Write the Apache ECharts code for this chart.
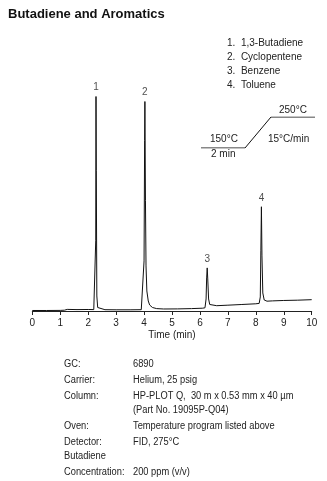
<!DOCTYPE html>
<html><head><meta charset="utf-8">
<script src="https://cdn.jsdelivr.net/npm/echarts@6/dist/echarts.min.js"></script>
<style>html,body{margin:0;padding:0;background:#fff}#c{width:327px;height:481px}</style>
</head><body><div id="c"></div>
<script>
var titleText = 'Butadiene and Aromatics';
var xTicks = [0,1,2,3,4,5,6,7,8,9,10];
var chromTime = [0,0.5,1.0,1.15,1.25,1.6,2.0,2.2,2.25,2.27,2.28,2.29,2.31,2.34,2.4,2.6,3.0,3.5,3.9,3.97,4.0,4.02,4.03,4.05,4.07,4.1,4.15,4.2,4.3,4.45,4.7,5.2,5.7,6.1,6.18,6.22,6.24,6.26,6.28,6.31,6.35,6.42,6.6,7.0,7.5,8.0,8.12,8.16,8.18,8.2,8.22,8.25,8.3,8.4,8.6,9.0,9.5,10.0];
var chromSignal = [0.5,0.5,0.6,0.8,1.6,1.4,1.5,1.4,3,70,214,140,15,3.5,1.8,1.3,1.2,1.2,1.3,2.5,50,170,209,110,45,20,10,6,3.5,2.4,2.0,2.1,2.4,2.8,3.2,12,33,43,32,12,6.5,5.2,5.3,5.8,6.5,7.2,7.6,14,60,104,55,18,11,9.8,10.1,10.5,10.8,11.3];
var peakNames = ['1','2','3','4'];
var peakTimes = [2.28,4.03,6.26,8.2];
var peakHeights = [214,209,43,104];
var compoundList = ['1.  1,3-Butadiene','2.  Cyclopentene','3.  Benzene','4.  Toluene'];
var ovenTime = [0,2,3.18,5.18];
var ovenTemp = [150,150,250,250];
var condLabels = ['GC:','Carrier:','Column:','','Oven:','Detector:','Butadiene','Concentration:'];
var condValues = ['6890','Helium, 25 psig','HP-PLOT Q,  30 m x 0.53 mm x 40 \u00b5m','(Part No. 19095P-Q04)','Temperature program listed above','FID, 275\u00b0C','','200 ppm (v/v)'];
var condRowY = [365,381,397,411,427,443,457,473];

var FF = '"Liberation Sans Narrow", "Liberation Sans", Arial, sans-serif';
var graphics = [];
graphics.push({type:'text', left:8, top:8, style:{text:titleText, font:'bold 13px '+FF, fill:'#111'}});
compoundList.forEach(function(t,i){
  graphics.push({type:'text', left:227, top:38+i*14, style:{text:t, font:'10px '+FF, fill:'#222'}});
});
condLabels.forEach(function(t,i){
  if(t) graphics.push({type:'text', left:64, top:condRowY[i]-6, scaleX:0.93, style:{text:t, font:'10px '+FF, fill:'#222'}});
});
condValues.forEach(function(t,i){
  if(t) graphics.push({type:'text', left:133, top:condRowY[i]-6, scaleX:0.93, style:{text:t, font:'10px '+FF, fill:'#222'}});
});
// oven schematic labels
graphics.push({type:'text', left:210, top:134, style:{text:'150\u00b0C', font:'10px '+FF, fill:'#222'}});
graphics.push({type:'text', left:211, top:149, style:{text:'2 min', font:'10px '+FF, fill:'#222'}});
graphics.push({type:'text', left:279, top:105, style:{text:'250\u00b0C', font:'10px '+FF, fill:'#222'}});
graphics.push({type:'text', left:268, top:134, style:{text:'15\u00b0C/min', font:'10px '+FF, fill:'#222'}});

var chart = echarts.init(document.getElementById('c'), null, {renderer:'canvas'});
chart.setOption({
  animation:false,
  backgroundColor:'#fff',
  grid:[
    {left:32.3, right:15.3, top:90.5, bottom:170},
    {left:201, width:114, top:117, height:31}
  ],
  xAxis:[
    {type:'value', gridIndex:0, min:0, max:10, interval:1,
     axisLine:{show:true, onZero:false, lineStyle:{color:'#222', width:1}},
     axisTick:{show:true, length:4, lineStyle:{color:'#222'}},
     axisLabel:{fontFamily:FF, fontSize:10, color:'#222', margin:7},
     splitLine:{show:false},
     name:'Time (min)', nameLocation:'middle', nameGap:19,
     nameTextStyle:{fontFamily:FF, fontSize:10, color:'#222'}},
    {type:'value', gridIndex:1, min:0, max:5.18, show:false}
  ],
  yAxis:[
    {type:'value', gridIndex:0, min:0, max:220, show:false},
    {type:'value', gridIndex:1, min:150, max:250, show:false}
  ],
  series:[
    {type:'line', xAxisIndex:0, yAxisIndex:0, showSymbol:false, symbol:'none',
     lineStyle:{color:'#111', width:1},
     data: chromTime.map(function(t,i){return [t, chromSignal[i]];})},
    {type:'scatter', xAxisIndex:0, yAxisIndex:0, symbolSize:0,
     label:{show:true, position:'top', distance:4, fontFamily:FF, fontSize:10, color:'#222',
            formatter:function(p){return p.data[2];}},
     data: peakTimes.map(function(t,i){return [t, peakHeights[i], peakNames[i]];})},
    {type:'line', xAxisIndex:1, yAxisIndex:1, showSymbol:false, symbol:'none',
     lineStyle:{color:'#111', width:1},
     data: ovenTime.map(function(t,i){return [t, ovenTemp[i]];})}
  ],
  graphic: graphics
});
</script></body></html>
